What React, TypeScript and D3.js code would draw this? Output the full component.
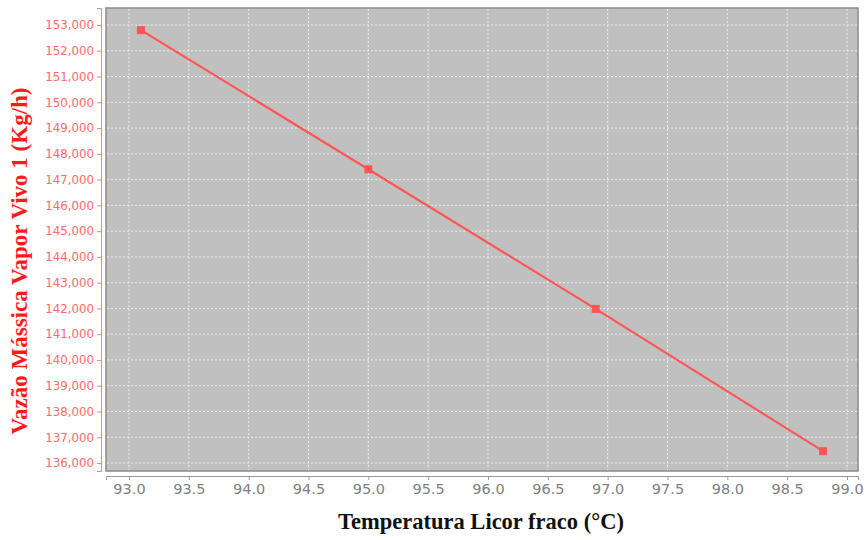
import * as d3 from 'd3';
import React, { useEffect, useRef } from 'react';

const temperatures = [93.1, 95.0, 96.9, 98.8];
const steamFlow = [152800, 147400, 141980, 136460];
const xTicks = [93.0, 93.5, 94.0, 94.5, 95.0, 95.5, 96.0, 96.5, 97.0, 97.5, 98.0, 98.5, 99.0];
const yTicks = d3.range(136000, 153001, 1000);

const App = () => {
    const ref = useRef<SVGSVGElement>(null);

    useEffect(() => {
        const svg = d3.select(ref.current);
        svg.selectAll("*").remove();

        const plot = { left: 106, right: 858, top: 8, bottom: 471 };

        const x = d3.scaleLinear().domain([92.808, 99.092]).range([plot.left, plot.right]);
        const y = d3.scaleLinear().domain([135690, 153660]).range([plot.bottom, plot.top]);

        svg.append("rect")
            .attr("x", 0).attr("y", 0)
            .attr("width", 866).attr("height", 540)
            .attr("fill", "#ffffff");

        svg.append("rect")
            .attr("x", plot.left).attr("y", plot.top)
            .attr("width", plot.right - plot.left)
            .attr("height", plot.bottom - plot.top)
            .attr("fill", "#c0c0c0")
            .attr("stroke", "#8a8a8a")
            .attr("stroke-width", 1.5);

        // grid
        svg.append("g").selectAll("line")
            .data(xTicks)
            .enter().append("line")
            .attr("x1", d => x(d)).attr("x2", d => x(d))
            .attr("y1", plot.top + 1).attr("y2", plot.bottom - 1)
            .attr("stroke", "#ececec")
            .attr("stroke-width", 1)
            .attr("stroke-dasharray", "2,2");

        svg.append("g").selectAll("line")
            .data(yTicks)
            .enter().append("line")
            .attr("x1", plot.left + 1).attr("x2", plot.right - 1)
            .attr("y1", d => y(d)).attr("y2", d => y(d))
            .attr("stroke", "#ececec")
            .attr("stroke-width", 1)
            .attr("stroke-dasharray", "2,2");

        // x axis
        const xAxis = svg.append("g")
            .attr("transform", `translate(0, ${plot.bottom + 5})`)
            .call(d3.axisBottom(x).tickValues(xTicks).tickFormat(d3.format(".1f")).tickSizeOuter(0).tickSize(4));
        xAxis.select(".domain").attr("stroke", "#9a9a9a");
        xAxis.selectAll(".tick line").attr("stroke", "#9a9a9a");
        xAxis.selectAll(".tick text")
            .attr("fill", "#808080")
            .attr("y", 8)
            .attr("dy", "0.71em")
            .style("font-family", "DejaVu Sans, sans-serif")
            .style("font-size", "14.5px");

        // y axis
        const yAxis = svg.append("g")
            .attr("transform", `translate(${plot.left - 5}, 0)`)
            .call(d3.axisLeft(y).tickValues(yTicks).tickFormat(d3.format(",")).tickSizeOuter(0).tickSize(4));
        yAxis.select(".domain").attr("stroke", "#ff8080");
        yAxis.selectAll(".tick line").attr("stroke", "#ff8080");
        yAxis.selectAll(".tick text")
            .attr("fill", "#ff6a6a")
            .style("font-family", "DejaVu Sans, sans-serif")
            .style("font-size", "11.8px");

        const points = temperatures.map((t, i) => ({ t, v: steamFlow[i] }));

        svg.append("path")
            .datum(points)
            .attr("fill", "none")
            .attr("stroke", "#ff5555")
            .attr("stroke-width", 2.2)
            .attr("d", d3.line<{ t: number; v: number }>().x(d => x(d.t)).y(d => y(d.v)));

        svg.append("g").selectAll("rect")
            .data(points)
            .enter().append("rect")
            .attr("x", d => x(d.t) - 4)
            .attr("y", d => y(d.v) - 4)
            .attr("width", 8)
            .attr("height", 8)
            .attr("fill", "#ff5555");

        svg.append("text")
            .attr("x", 481)
            .attr("y", 529)
            .attr("text-anchor", "middle")
            .style("font-family", "Liberation Serif, Times New Roman, serif")
            .style("font-weight", "bold")
            .style("font-size", "22.5px")
            .attr("fill", "#111")
            .text("Temperatura Licor fraco (°C)");

        svg.append("text")
            .attr("transform", "translate(27, 261) rotate(-90)")
            .attr("text-anchor", "middle")
            .style("font-family", "Liberation Serif, Times New Roman, serif")
            .style("font-weight", "bold")
            .style("font-size", "23px")
            .attr("fill", "#ff1a1a")
            .text("Vazão Mássica Vapor Vivo 1 (Kg/h)");
    }, []);

    return (
        <svg ref={ref} width={866} height={540}
            style={{ position: 'absolute', left: 0, top: 0 }} />
    );
};

export default App;
